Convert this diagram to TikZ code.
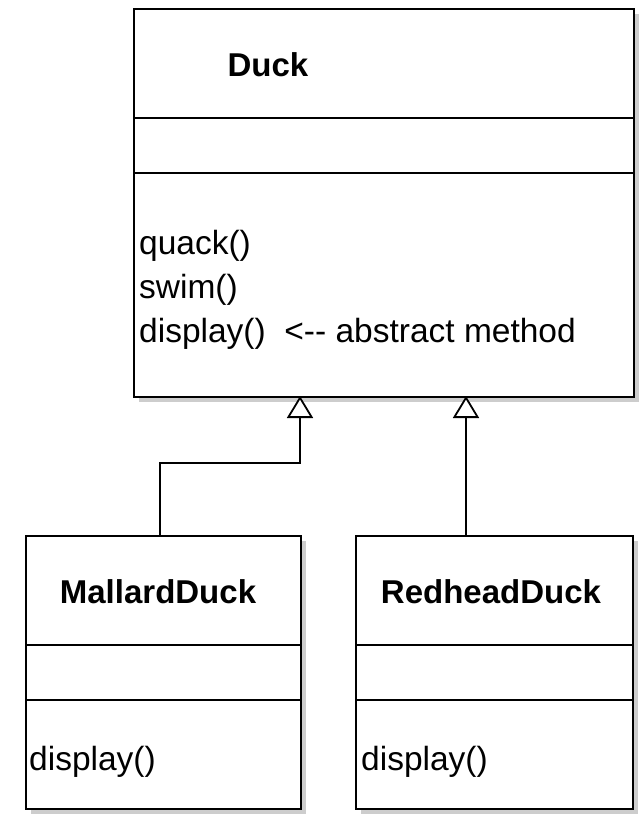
\documentclass[tikz,border=0pt]{standalone}
\usepackage{fontspec}
\setmainfont{Liberation Sans}
\usetikzlibrary{arrows.meta}
\definecolor{shade}{RGB}{205,205,205}
\begin{document}
\begin{tikzpicture}[x=1pt,y=-1pt,
  box/.style={draw=black, line width=1.8pt, fill=white, anchor=north west, inner sep=0pt},
  shadowbox/.style={fill=shade, draw=none, anchor=north west, inner sep=0pt},
  title/.style={font=\fontsize{33}{40}\selectfont\bfseries, anchor=base, inner sep=0pt},
  meth/.style={font=\fontsize{33.5}{44}\selectfont, anchor=base west, inner sep=0pt},
  sep/.style={line width=1.8pt},
  inh/.style={line width=1.8pt, -{Triangle[open, width=26pt, length=22pt, line width=1.8pt, fill=white]}}
]
\useasboundingbox (0,0) rectangle (642,816);
% shadows
\node[shadowbox, minimum width=500pt, minimum height=388pt] (duckS) at (139,14) {};
\node[shadowbox, minimum width=275pt, minimum height=273pt] (malS) at (31,541) {};
\node[shadowbox, minimum width=277pt, minimum height=273pt] (redS) at (361,541) {};
% Duck
\node[box, minimum width=500pt, minimum height=388pt] (duck) at (133,8) {};
\draw[sep] (133,118) -- (633,118);
\draw[sep] (133,173) -- (633,173);
\node[title] (duckT) at (268,77) {Duck};
\node[meth] (m1) at (139,254) {quack()};
\node[meth] (m2) at (139,298) {swim()};
\node[meth] (m3) at (139,342) {display()\ \ <{-}{-} abstract method};
% MallardDuck
\node[box, minimum width=275pt, minimum height=273pt] (mal) at (25,535) {};
\draw[sep] (25,645) -- (300,645);
\draw[sep] (25,700) -- (300,700);
\node[title] (malT) at (158,603) {MallardDuck};
\node[meth] (malM) at (29,770) {display()};
% RedheadDuck
\node[box, minimum width=277pt, minimum height=273pt] (red) at (355,535) {};
\draw[sep] (355,645) -- (632,645);
\draw[sep] (355,700) -- (632,700);
\node[title] (redT) at (491,603) {RedheadDuck};
\node[meth] (redM) at (361,770) {display()};
% connectors
\coordinate (t1) at (300,396);
\coordinate (t2) at (466,396);
\coordinate (b1) at (300,463);
\coordinate (r0) at (466,535);
\coordinate (m0) at (160,535);
\draw[inh] (m0) |- (b1) -- (t1);
\draw[inh] (r0) -- (t2);
\end{tikzpicture}
\end{document}
